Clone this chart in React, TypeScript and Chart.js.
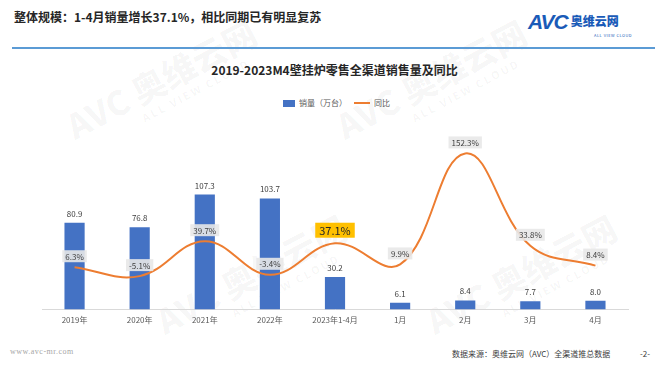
import React, { useEffect, useRef } from "react";
import { Chart, registerables } from "chart.js";

Chart.register(...registerables);

const categories = ["2019年", "2020年", "2021年", "2022年", "2023年1-4月", "1月", "2月", "3月", "4月"];
const salesValues = [80.9, 76.8, 107.3, 103.7, 30.2, 6.1, 8.4, 7.7, 8.0];
const yoyValues = [6.3, -5.1, 39.7, -3.4, 37.1, 9.9, 152.3, 33.8, 8.4];
const highlightIndex = 4;

const seriesNames = ["销量（万台）", "同比"];
const headerText = "整体规模：1-4月销量增长37.1%，相比同期已有明显复苏";
const chartTitle = "2019-2023M4壁挂炉零售全渠道销售量及同比";
const sourceText = "数据来源：奥维云网（AVC）全渠道推总数据";
const siteText = "www.avc-mr.com";
const pageText = "-2-";

const BAR_COLOR = "#4472c4";
const LINE_COLOR = "#ed7d31";
const CJK = '"Noto Sans CJK SC", "Noto Sans", sans-serif';

const labelPlugin = {
  id: "valueLabels",
  afterDatasetsDraw(chart: any) {
    const ctx = chart.ctx;
    ctx.save();
    const barMeta = chart.getDatasetMeta(0);
    ctx.font = `8px ${CJK}`;
    ctx.fillStyle = "#404040";
    ctx.textAlign = "center";
    ctx.textBaseline = "middle";
    barMeta.data.forEach((el: any, i: number) => {
      ctx.fillText(salesValues[i].toFixed(1), el.x, el.y - 9);
    });
    const lineMeta = chart.getDatasetMeta(1);
    lineMeta.data.forEach((el: any, i: number) => {
      const txt = yoyValues[i].toFixed(1) + "%";
      const hl = i === highlightIndex;
      ctx.font = hl ? `11px ${CJK}` : `8px ${CJK}`;
      const w = ctx.measureText(txt).width + (hl ? 8 : 6);
      const h = hl ? 15 : 12;
      const cy = el.y - (hl ? 13 : 11);
      ctx.fillStyle = hl ? "#ffc000" : "rgba(232,232,232,0.9)";
      ctx.fillRect(el.x - w / 2, cy - h / 2, w, h);
      ctx.fillStyle = hl ? "#262626" : "#404040";
      ctx.fillText(txt, el.x, cy + 0.5);
    });
    ctx.restore();
  },
};

function Watermark({ left, top }: { left: number; top: number }) {
  return (
    <div
      style={{
        position: "absolute",
        left,
        top,
        transform: "rotate(-28deg)",
        color: "rgba(0,0,0,0.035)",
        fontFamily: CJK,
        fontWeight: 900,
        whiteSpace: "nowrap",
        pointerEvents: "none",
      }}
    >
      <div style={{ fontSize: 34, lineHeight: "36px" }}>AVC 奥维云网</div>
      <div style={{ fontSize: 11, letterSpacing: 2, marginLeft: 70 }}>ALL VIEW CLOUD</div>
    </div>
  );
}

export default function App() {
  const canvasRef = useRef<HTMLCanvasElement>(null);

  useEffect(() => {
    if (!canvasRef.current) return;
    const chart = new Chart(canvasRef.current, {
      type: "bar",
      data: {
        labels: categories,
        datasets: [
          {
            type: "bar",
            label: seriesNames[0],
            data: salesValues,
            backgroundColor: BAR_COLOR,
            categoryPercentage: 1,
            barPercentage: 0.31,
            yAxisID: "y",
            order: 2,
          },
          {
            type: "line",
            label: seriesNames[1],
            data: yoyValues,
            borderColor: LINE_COLOR,
            borderWidth: 2,
            pointRadius: 0,
            tension: 0.4,
            fill: false,
            yAxisID: "y1",
            order: 1,
          } as any,
        ],
      },
      options: {
        animation: false,
        responsive: false,
        maintainAspectRatio: false,
        layout: { padding: { top: 5, left: 42, right: 41, bottom: 4 } },
        plugins: {
          legend: { display: false },
          title: { display: false },
          tooltip: { enabled: false },
        },
        scales: {
          x: {
            grid: { display: false, drawTicks: false },
            border: { color: "#d9d9d9" },
            ticks: { color: "#595959", font: { size: 8, family: CJK }, padding: 6, maxRotation: 0 },
          },
          y: { display: false, min: 0, max: 181.7 },
          y1: { display: false, min: -47.8, max: 201.6 },
        },
      },
      plugins: [labelPlugin],
    });
    return () => chart.destroy();
  }, []);

  return (
    <div
      style={{
        position: "fixed",
        left: 0,
        top: 0,
        width: 669,
        height: 368,
        background: "#fff",
        overflow: "hidden",
        fontFamily: CJK,
      }}
    >
      <Watermark left={60} top={60} />
      <Watermark left={330} top={60} />
      <Watermark left={150} top={255} />
      <Watermark left={420} top={255} />
      <div
        style={{
          position: "absolute",
          left: 14,
          top: 8,
          fontSize: 12,
          fontWeight: 700,
          color: "#262626",
          whiteSpace: "nowrap",
          lineHeight: "18px",
        }}
      >
        {headerText}
      </div>
      <div style={{ position: "absolute", left: 528, top: 10, whiteSpace: "nowrap" }}>
        <span
          style={{
            fontFamily: '"Liberation Sans", Arial, sans-serif',
            fontWeight: 900,
            fontStyle: "italic",
            fontSize: 21,
            color: "#1a5bb8",
            letterSpacing: -1,
          }}
        >
          AVC
        </span>
        <span style={{ fontSize: 12, fontWeight: 900, color: "#1a5bb8", marginLeft: 3, verticalAlign: 3 }}>
          奥维云网
        </span>
        <div style={{ position: "absolute", left: 66, top: 22, fontSize: 4, color: "#1a5bb8", letterSpacing: 0.5 }}>
          ALL VIEW CLOUD
        </div>
      </div>
      <div style={{ position: "absolute", left: 12, top: 47, width: 643, height: 2, background: "#5b9bd5" }} />
      <div
        style={{
          position: "absolute",
          left: 0,
          width: 669,
          top: 62,
          textAlign: "center",
          fontSize: 12,
          fontWeight: 700,
          color: "#262626",
          lineHeight: "16px",
        }}
      >
        {chartTitle}
      </div>
      <div
        style={{
          position: "absolute",
          left: 283,
          top: 97,
          fontSize: 8,
          color: "#595959",
          lineHeight: "12px",
          whiteSpace: "nowrap",
          display: "flex",
          alignItems: "center",
        }}
      >
        <span style={{ display: "inline-block", width: 12, height: 7, background: BAR_COLOR, marginRight: 4 }} />
        <span>{seriesNames[0]}</span>
        <span style={{ display: "inline-block", width: 16, height: 2, background: LINE_COLOR, margin: "0 4px 0 7px" }} />
        <span>{seriesNames[1]}</span>
      </div>
      <div style={{ position: "absolute", left: 0, top: 110, width: 669, height: 225 }}>
        <canvas ref={canvasRef} width={669} height={225} style={{ width: 669, height: 225 }} />
      </div>
      <div
        style={{
          position: "absolute",
          left: 10,
          top: 347,
          fontSize: 8,
          fontFamily: '"Liberation Serif", serif',
          color: "#a6a6a6",
          letterSpacing: 0.5,
        }}
      >
        {siteText}
      </div>
      <div style={{ position: "absolute", left: 452, top: 348, fontSize: 8, color: "#404040", whiteSpace: "nowrap" }}>
        {sourceText}
      </div>
      <div style={{ position: "absolute", left: 640, top: 348, fontSize: 8, color: "#404040" }}>{pageText}</div>
    </div>
  );
}
